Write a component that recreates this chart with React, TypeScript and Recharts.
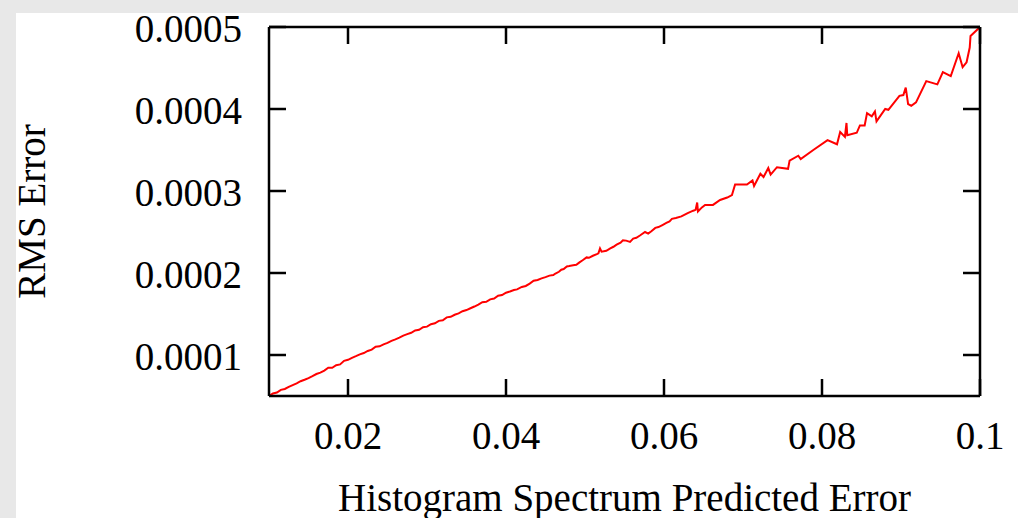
import React from 'react';
import { LineChart, Line, XAxis, YAxis, Label } from 'recharts';

// ---- tick values and labels ----
const xTicks = [0.02, 0.04, 0.06, 0.08, 0.1];
const xTickLabels = ['0.02', '0.04', '0.06', '0.08', '0.1'];
const yTicks = [0.0001, 0.0002, 0.0003, 0.0004, 0.0005];
const yTickLabels = ['0.0001', '0.0002', '0.0003', '0.0004', '0.0005'];
const xTitle = 'Histogram Spectrum Predicted Error';
const yTitle = 'RMS Error';

// ---- series: predicted error (x) vs RMS error (y) ----
const lowX = [
  0.0100, 0.0105, 0.0110, 0.0115, 0.0120, 0.0125, 0.0130, 0.0135, 0.0140, 0.0145,
  0.0150, 0.0155, 0.0160, 0.0165, 0.0170, 0.0175, 0.0180, 0.0185, 0.0190, 0.0195,
  0.0200, 0.0205, 0.0210, 0.0215, 0.0220, 0.0225, 0.0230, 0.0235, 0.0240, 0.0245,
  0.0250, 0.0255, 0.0260, 0.0265, 0.0270, 0.0275, 0.0280, 0.0285, 0.0290, 0.0295,
  0.0300, 0.0305, 0.0310, 0.0315, 0.0320, 0.0325, 0.0330, 0.0335, 0.0340, 0.0345,
  0.0350, 0.0355, 0.0360, 0.0365, 0.0370, 0.0375, 0.0380, 0.0385, 0.0390, 0.0395, 0.0400,
];
const lowY = [
  0.0000500, 0.0000531, 0.0000542, 0.0000575, 0.0000586, 0.0000612, 0.0000633, 0.0000654, 0.0000680, 0.0000698,
  0.0000718, 0.0000742, 0.0000768, 0.0000785, 0.0000810, 0.0000845, 0.0000844, 0.0000875, 0.0000885, 0.0000929,
  0.0000941, 0.0000966, 0.0000986, 0.0001008, 0.0001024, 0.0001049, 0.0001066, 0.0001102, 0.0001106, 0.0001130,
  0.0001148, 0.0001172, 0.0001191, 0.0001212, 0.0001236, 0.0001254, 0.0001271, 0.0001299, 0.0001308, 0.0001339,
  0.0001346, 0.0001376, 0.0001386, 0.0001416, 0.0001424, 0.0001459, 0.0001466, 0.0001491, 0.0001508, 0.0001534,
  0.0001548, 0.0001570, 0.0001591, 0.0001614, 0.0001644, 0.0001648, 0.0001679, 0.0001688, 0.0001722, 0.0001731, 0.0001760,
];
const midX = [
  0.0405, 0.0410, 0.0414, 0.0420, 0.0425, 0.0430, 0.0435, 0.0440, 0.0445, 0.0450,
  0.0455, 0.0460, 0.0462, 0.0467, 0.0470, 0.0473, 0.0477, 0.0480, 0.0485, 0.0489,
  0.0493, 0.0497, 0.0502, 0.0505, 0.0510, 0.0515, 0.0517, 0.0519, 0.0521, 0.0527,
  0.0532, 0.0536, 0.0540, 0.0545, 0.0548, 0.0552, 0.0557, 0.0561, 0.0565, 0.0570,
  0.0576, 0.0580, 0.0584, 0.0589, 0.0593, 0.0598, 0.0603, 0.0607, 0.0610, 0.0615,
  0.0622, 0.0630, 0.0637, 0.0640, 0.0642, 0.0643, 0.0648, 0.0652, 0.0662, 0.0671,
  0.0680, 0.0686, 0.0690, 0.0705,
];
const midY = [
  0.0001775, 0.0001792, 0.0001800, 0.0001830, 0.0001842, 0.0001870, 0.0001905, 0.0001915, 0.0001935, 0.0001950,
  0.0001968, 0.0001975, 0.0001990, 0.0002015, 0.0002040, 0.0002048, 0.0002080, 0.0002085, 0.0002095, 0.0002100,
  0.0002130, 0.0002155, 0.0002190, 0.0002185, 0.0002210, 0.0002230, 0.0002240, 0.0002300, 0.0002260, 0.0002270,
  0.0002300, 0.0002320, 0.0002345, 0.0002370, 0.0002400, 0.0002395, 0.0002380, 0.0002420, 0.0002430, 0.0002460,
  0.0002500, 0.0002480, 0.0002510, 0.0002550, 0.0002560, 0.0002585, 0.0002610, 0.0002630, 0.0002660, 0.0002670,
  0.0002690, 0.0002730, 0.0002760, 0.0002770, 0.0002860, 0.0002750, 0.0002800, 0.0002830, 0.0002830, 0.0002890,
  0.0002920, 0.0002950, 0.0003080, 0.0003080,
];
const highX = [
  0.0712, 0.0714, 0.0722, 0.0726, 0.0732, 0.0735, 0.0743, 0.0757, 0.0759, 0.0770,
  0.0773, 0.0789, 0.0807, 0.0819, 0.0823, 0.0829, 0.0831, 0.0832, 0.0844, 0.0848,
  0.0854, 0.0857, 0.0863, 0.0867, 0.0869, 0.0880, 0.0884, 0.0898, 0.0903, 0.0906,
  0.0909, 0.0913, 0.0919, 0.0932, 0.0946, 0.0953, 0.0963, 0.0973, 0.0978, 0.0983,
  0.0987, 0.0988, 0.1000,
];
const highY = [
  0.000313, 0.000306, 0.000321, 0.000317, 0.000328, 0.000320, 0.000329, 0.000327, 0.000337, 0.000343,
  0.000339, 0.000350, 0.000362, 0.000357, 0.000372, 0.000366, 0.000383, 0.000368, 0.000371, 0.000380,
  0.000380, 0.000395, 0.000391, 0.000397, 0.000385, 0.000400, 0.000399, 0.000416, 0.000417, 0.000426,
  0.000406, 0.000404, 0.000408, 0.000434, 0.000430, 0.000445, 0.000440, 0.000468, 0.000451, 0.000457,
  0.000475, 0.000489, 0.000500,
];

const allX = [...lowX, ...midX, ...highX];
const allY = [...lowY, ...midY, ...highY];
const data = allX.map((x, i) => ({ x, y: allY[i] }));

const FONT = '"Liberation Serif", "Times New Roman", Times, serif';
const FS = 39;

const XTick = (props: any) => {
  const { x, y, payload } = props;
  const i = xTicks.indexOf(payload.value);
  return (
    <text x={x} y={y + 53} textAnchor="middle" fontFamily={FONT} fontSize={FS} fill="#000">
      {i >= 0 ? xTickLabels[i] : String(payload.value)}
    </text>
  );
};

const YTick = (props: any) => {
  const { x, y, payload } = props;
  const i = yTicks.indexOf(payload.value);
  return (
    <text x={x - 27} y={y + 15} textAnchor="end" fontFamily={FONT} fontSize={FS} fill="#000">
      {i >= 0 ? yTickLabels[i] : String(payload.value)}
    </text>
  );
};

const NoTick = () => <g />;

const XTitle = (props: any) => {
  const vb = props.viewBox || { x: 269, y: 396, width: 711, height: 122 };
  return (
    <text x={vb.x + vb.width / 2} y={vb.y + 115} textAnchor="middle" fontFamily={FONT} fontSize={FS} fill="#000">
      {xTitle}
    </text>
  );
};

const YTitle = (props: any) => {
  const vb = props.viewBox || { x: 0, y: 27, width: 269, height: 369 };
  const cx = vb.x + 45;
  const cy = vb.y + vb.height / 2;
  return (
    <text x={cx} y={cy} transform={`rotate(-90, ${cx}, ${cy})`} textAnchor="middle" fontFamily={FONT} fontSize={FS} fill="#000">
      {yTitle}
    </text>
  );
};

const frame = { stroke: '#000', strokeWidth: 2.5 };

export default function App() {
  return (
    <div style={{ position: 'fixed', left: 0, top: 0, width: 1018, height: 518, background: '#e8e8e8', overflow: 'hidden' }}>
      <div style={{ position: 'absolute', left: 16, top: 13, right: 0, bottom: 0, background: '#ffffff' }} />
      <div style={{ position: 'absolute', left: 0, top: 0 }}>
        <LineChart width={1018} height={518} data={data} margin={{ top: 27, right: 38, bottom: 0, left: 0 }}>
          <XAxis
            xAxisId="b"
            dataKey="x"
            type="number"
            orientation="bottom"
            domain={[0.01, 0.1]}
            allowDataOverflow
            ticks={xTicks}
            interval={0}
            height={122}
            stroke="#000"
            strokeWidth={2.5}
            tickLine={false}
            tickSize={0}
            tickMargin={0}
            axisLine={frame}
            tick={<XTick />}
          >
            <Label content={<XTitle />} />
          </XAxis>
          <XAxis
            xAxisId="bm"
            dataKey="x"
            type="number"
            orientation="bottom"
            mirror
            domain={[0.01, 0.1]}
            allowDataOverflow
            ticks={xTicks}
            interval={0}
            stroke="#000"
            strokeWidth={2.5}
            tick={<NoTick />}
            tickSize={17}
            tickLine={frame}
            axisLine={false}
          />
          <XAxis
            xAxisId="tm"
            dataKey="x"
            type="number"
            orientation="top"
            mirror
            domain={[0.01, 0.1]}
            allowDataOverflow
            ticks={xTicks}
            interval={0}
            stroke="#000"
            strokeWidth={2.5}
            tick={<NoTick />}
            tickSize={17}
            tickLine={frame}
            axisLine={frame}
          />
          <YAxis
            yAxisId="l"
            type="number"
            orientation="left"
            domain={[0.00005, 0.0005]}
            allowDataOverflow
            ticks={yTicks}
            interval={0}
            width={269}
            stroke="#000"
            strokeWidth={2.5}
            tickLine={false}
            tickSize={0}
            tickMargin={0}
            axisLine={frame}
            tick={<YTick />}
          >
            <Label content={<YTitle />} />
          </YAxis>
          <YAxis
            yAxisId="lm"
            type="number"
            orientation="left"
            mirror
            domain={[0.00005, 0.0005]}
            allowDataOverflow
            ticks={yTicks}
            interval={0}
            stroke="#000"
            strokeWidth={2.5}
            tick={<NoTick />}
            tickSize={17}
            tickLine={frame}
            axisLine={false}
          />
          <YAxis
            yAxisId="rm"
            type="number"
            orientation="right"
            mirror
            domain={[0.00005, 0.0005]}
            allowDataOverflow
            ticks={yTicks}
            interval={0}
            stroke="#000"
            strokeWidth={2.5}
            tick={<NoTick />}
            tickSize={17}
            tickLine={frame}
            axisLine={frame}
          />
          <Line
            xAxisId="b"
            yAxisId="l"
            type="linear"
            dataKey="y"
            stroke="#ff0000"
            strokeWidth={2}
            dot={false}
            activeDot={false}
            isAnimationActive={false}
          />
        </LineChart>
      </div>
    </div>
  );
}
